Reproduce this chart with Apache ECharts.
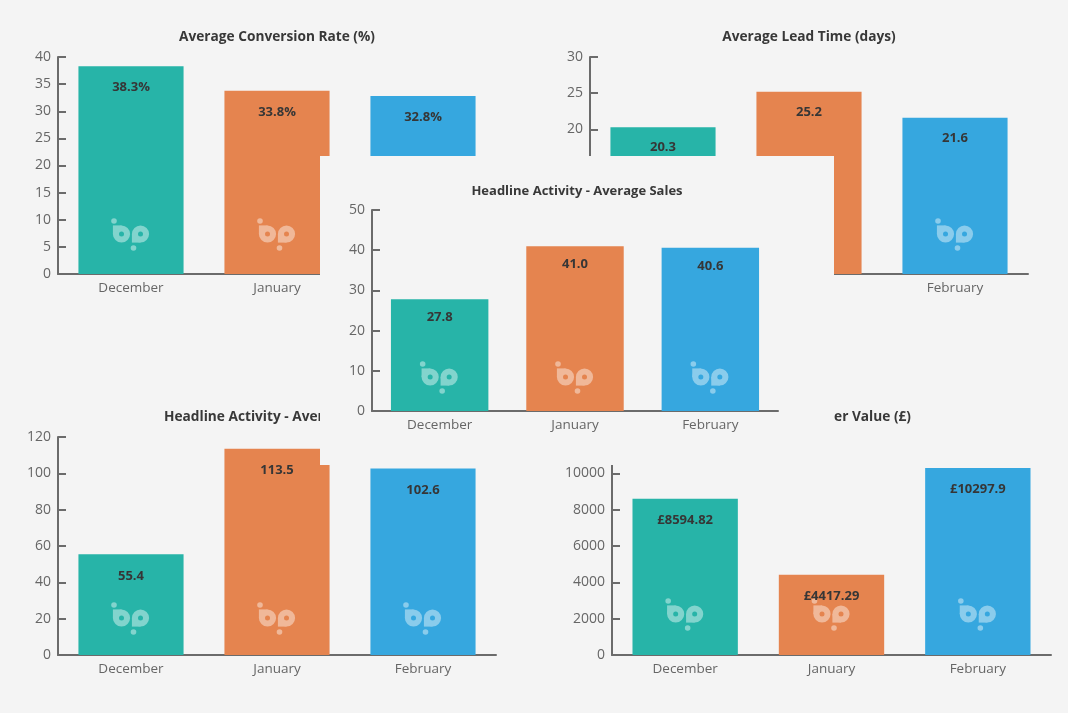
<!DOCTYPE html>
<html><head><meta charset="utf-8">
<script src="https://cdn.jsdelivr.net/npm/echarts@6/dist/echarts.min.js"></script>
<style>
html,body{margin:0;padding:0;background:#f4f4f4;width:1068px;height:713px;overflow:hidden;}
.p{position:absolute;background:#f4f4f4;}
</style></head><body>
<div id="pA" class="p" style="left:0;top:0;width:534px;height:380px;z-index:1"></div>
<div id="pB" class="p" style="left:534px;top:0;width:534px;height:380px;z-index:1"></div>
<div id="pD" class="p" style="left:0;top:380px;width:534px;height:333px;z-index:1"></div>
<div id="pE" class="p" style="left:534px;top:380px;width:534px;height:333px;z-index:1"></div>
<div id="pC" class="p" style="left:320px;top:156px;width:514px;height:309px;z-index:5"></div>
<script>
const months = ['December', 'January', 'February'];
const conversionRate = [38.3, 33.8, 32.8];
const leadTime = [20.3, 25.2, 21.6];
const averageSales = [27.8, 41.0, 40.6];
const averageOrders = [55.4, 113.5, 102.6];
const orderValue = [8594.82, 4417.29, 10297.9];
const barColors = ['#27b4a8', '#e5844f', '#36a7df'];

const FONT = 'Open Sans';
const AXIS_COLOR = '#6b6b6b';

function mix(hex, t) {
  const n = parseInt(hex.slice(1), 16);
  const r = (n >> 16) & 255, g = (n >> 8) & 255, b = n & 255;
  const f = c => Math.round(c + (255 - c) * t);
  return 'rgb(' + f(r) + ',' + f(g) + ',' + f(b) + ')';
}

function logoRender(offset) {
  return function (params, api) {
    const p = api.coord([api.value(0), 0]);
    const cx = p[0], cy = p[1] - offset;
    const base = barColors[params.dataIndex];
    const light = mix(base, 0.42);
    const st = { fill: light };
    const R = 8.6;
    return {
      type: 'group',
      children: [
        { type: 'circle', shape: { cx: cx - 17, cy: cy - 13, r: 2.8 }, style: st },
        { type: 'circle', shape: { cx: cx - 9.5, cy: cy, r: R }, style: st },
        { type: 'rect', shape: { x: cx - 9.5 - R, y: cy - R, width: R, height: R }, style: st },
        { type: 'circle', shape: { cx: cx + 9.5, cy: cy, r: R }, style: st },
        { type: 'rect', shape: { x: cx + 9.5 - R, y: cy, width: R, height: R }, style: st },
        { type: 'circle', shape: { cx: cx + 2.5, cy: cy + 14, r: 2.8 }, style: st },
        { type: 'circle', shape: { cx: cx - 9.5, cy: cy, r: 2.5 }, style: { fill: base } },
        { type: 'circle', shape: { cx: cx + 9.5, cy: cy, r: 2.5 }, style: { fill: base } }
      ]
    };
  };
}

function makePanel(id, cfg) {
  const chart = echarts.init(document.getElementById(id), null, { renderer: 'canvas' });
  const title = {
    text: cfg.title,
    top: cfg.titleTop,
    left: cfg.titleX,
    textAlign: cfg.titleAlign || 'center',
    padding: 0,
    textStyle: { fontFamily: FONT, fontSize: cfg.titleSize, fontWeight: 'bold', color: '#383838' }
  };
  chart.setOption({
    animation: false,
    backgroundColor: '#f4f4f4',
    title: title,
    grid: { left: cfg.left, top: cfg.top, width: cfg.width, height: cfg.height },
    xAxis: {
      type: 'category',
      data: months,
      axisLine: { lineStyle: { color: AXIS_COLOR, width: 2 } },
      axisTick: { inside: true, length: 6, lineStyle: { color: AXIS_COLOR, width: 2 } },
      axisLabel: { fontFamily: FONT, fontSize: 13.5, color: '#666', margin: 7 }
    },
    yAxis: {
      type: 'value',
      min: 0, max: cfg.max, interval: cfg.interval,
      axisLine: { show: true, lineStyle: { color: AXIS_COLOR, width: 2 } },
      axisTick: { show: true, inside: true, length: 8, lineStyle: { color: AXIS_COLOR, width: 2 } },
      splitLine: { show: false },
      axisLabel: { fontFamily: FONT, fontSize: 14, color: '#666', margin: 7, padding: [3, 0, 0, 0], formatter: v => String(v) }
    },
    series: [
      {
        type: 'bar', z: 2, barWidth: '72%', barGap: '-100%',
        data: cfg.data.map((v, i) => ({ value: v, itemStyle: { color: barColors[i] } })),
        label: { show: false }
      },
      {
        type: 'custom', z: 3,
        renderItem: logoRender(cfg.logo),
        data: months.map((m, i) => [i, 0]),
        encode: { x: 0, y: 1 }
      },
      {
        type: 'bar', z: 4, barWidth: '72%', barGap: '-100%',
        data: cfg.data,
        itemStyle: { color: 'rgba(0,0,0,0)' },
        label: {
          show: true, position: 'insideTop', distance: cfg.labelDist,
          formatter: p => cfg.fmt(p.value),
          fontFamily: FONT, fontSize: 13, fontWeight: 'bold', color: '#363636'
        }
      }
    ]
  });
}

makePanel('pA', { title: 'Average Conversion Rate (%)', titleX: 277, titleTop: 30, titleSize: 13.7,
  left: 58, top: 57, width: 438, height: 217, max: 40, interval: 5, labelDist: 15,
  data: conversionRate, fmt: v => v.toFixed(1) + '%', logo: 40 });
makePanel('pB', { title: 'Average Lead Time (days)', titleX: 275, titleTop: 30, titleSize: 13.7,
  left: 56, top: 57, width: 438, height: 217, max: 30, interval: 5, labelDist: 14,
  data: leadTime, fmt: v => v.toFixed(1), logo: 40 });
makePanel('pD', { title: 'Headline Activity - Average Orders', titleX: 164, titleAlign: 'left', titleTop: 30, titleSize: 13.7,
  left: 58, top: 57, width: 438, height: 218, max: 120, interval: 20, labelDist: 15,
  data: averageOrders, fmt: v => v.toFixed(1), logo: 37 });
makePanel('pE', { title: 'Headline Activity - Average Order Value (£)', titleX: 377, titleAlign: 'right', titleTop: 30, titleSize: 13.7,
  left: 78, top: 57, width: 439, height: 218, max: 12000, interval: 2000, labelDist: 15,
  data: orderValue, fmt: v => '£' + v, logo: 41 });
makePanel('pC', { title: 'Headline Activity - Average Sales', titleX: 257, titleTop: 29, titleSize: 13,
  left: 52, top: 54, width: 406, height: 201, max: 50, interval: 10, labelDist: 12,
  data: averageSales, fmt: v => v.toFixed(1), logo: 34 });
</script>
</body></html>
